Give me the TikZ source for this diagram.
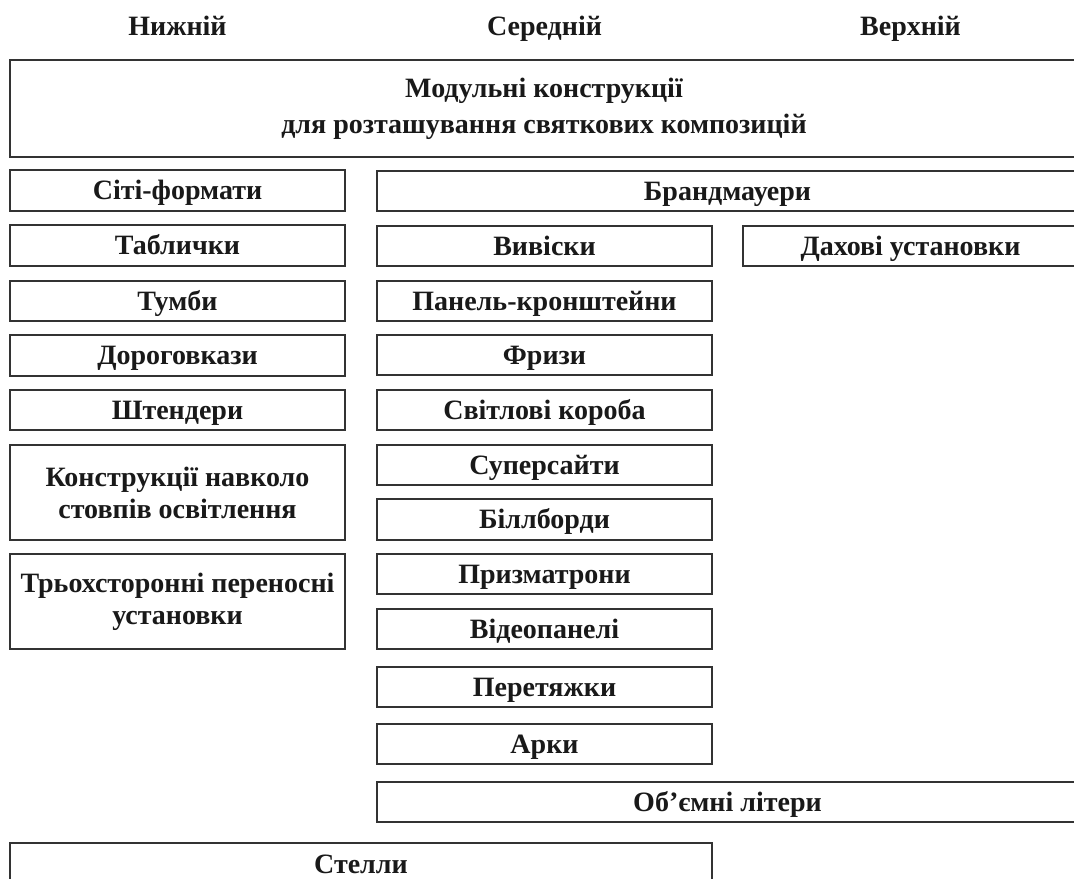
\documentclass[tikz,border=0pt]{standalone}
\usepackage{fontspec}
\setmainfont{Liberation Serif}
\begin{document}
\begin{tikzpicture}[x=0.75pt,y=-0.75pt,
  bx/.style={draw=black!80,line width=1.5pt,fill=white,inner sep=0pt,outer sep=0pt,anchor=north west,
    font=\fontsize{21}{24}\selectfont\bfseries,text=black!90},
  one/.style={text height=17pt,text depth=3pt},
  two/.style={align=center},
  hd/.style={font=\fontsize{21}{24}\selectfont\bfseries,text=black!90,text height=17pt,text depth=3pt,inner sep=0pt}]
\useasboundingbox (0,0) rectangle (1074,878);
\clip (0,0) rectangle (1074,878);
\newcommand\bx[7][one]{\node[bx,#1,minimum width={(#5-#3)*0.75pt},minimum height={(#6-#4)*0.75pt}] (#2) at (#3,#4) {#7};}
% headers
\node[hd] (hl) at (177.5,26.5) {Нижній};
\node[hd] (hm) at (544.5,26.5) {Середній};
\node[hd] (hr) at (910.5,26.5) {Верхній};
% top
\bx[{two,font=\fontsize{21}{27}\selectfont\bfseries}]{top}{10}{60}{1078}{157}{Модульні конструкції\\для розташування святкових композицій}
% left column
\bx{l1}{10}{170}{345}{211}{Сіті-формати}
\bx{l2}{10}{225}{345}{266}{Таблички}
\bx{l3}{10}{281}{345}{321}{Тумби}
\bx{l4}{10}{335}{345}{376}{Дороговкази}
\bx{l5}{10}{390}{345}{430}{Штендери}
\bx[two]{l6}{10}{445}{345}{540}{Конструкції навколо\\стовпів освітлення}
\bx[two]{l7}{10}{554}{345}{649}{Трьохсторонні переносні\\установки}
% middle column
\bx{m0}{377}{171}{1078}{211}{Брандмауери}
\bx{m1}{377}{226}{712}{266}{Вивіски}
\bx{m2}{377}{281}{712}{321}{Панель-кронштейни}
\bx{m3}{377}{335}{712}{375}{Фризи}
\bx{m4}{377}{390}{712}{430}{Світлові короба}
\bx{m5}{377}{445}{712}{485}{Суперсайти}
\bx{m6}{377}{499}{712}{540}{Біллборди}
\bx{m7}{377}{554}{712}{594}{Призматрони}
\bx{m8}{377}{609}{712}{649}{Відеопанелі}
\bx{m9}{377}{667}{712}{707}{Перетяжки}
\bx{m10}{377}{724}{712}{764}{Арки}
\bx{m11}{377}{782}{1078}{822}{Об’ємні літери}
% right column
\bx{r1}{743}{226}{1078}{266}{Дахові установки}
% bottom
\bx{st}{10}{843}{712}{885}{Стелли}
\end{tikzpicture}
\end{document}
